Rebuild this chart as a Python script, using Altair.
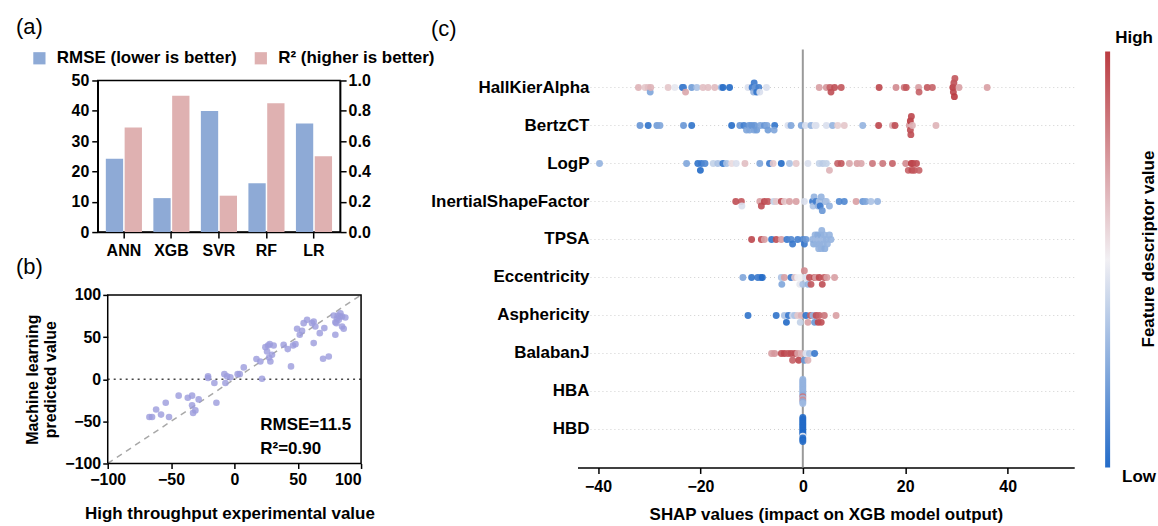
import altair as alt
import numpy as np
import pandas as pd

FONT = "Liberation Sans"

# ---------------- (a) model comparison ----------------
models = ["ANN", "XGB", "SVR", "RF", "LR"]
rmse_vals = [24.2, 11.2, 39.9, 16.1, 35.8]
r2_vals = [0.69, 0.90, 0.24, 0.85, 0.50]
metric_names = ["RMSE (lower is better)", "R²  (higher is better)"]
bar_colors = ["#8EAAD6", "#DFB1B1"]
rmse_ticks = [0, 10, 20, 30, 40, 50]
r2_ticks = [0.0, 0.2, 0.4, 0.6, 0.8, 1.0]

# ---------------- (b) predicted vs experimental ----------------
exp_vals = [-67.1, -65.0, -61.8, -57.9, -54.2, -51.6, -44.0, -36.8, -33.4, -33.4,
            -32.6, -30.8, -28.2, -20.8, -20.8, -15.8, -14.2, -7.9, -5.8, -7.1,
            -3.2, 2.6, 4.2, 7.4, 17.4, 20.5, 21.8, 24.5, 25.8, 26.6,
            27.9, 27.4, 28.4, 29.7, 31.0, 38.9, 42.1, 44.7, 46.3, 48.2,
            49.5, 51.6, 53.4, 54.7, 57.4, 61.3, 62.6, 62.6, 63.9, 67.4,
            70.0, 74.5, 71.0, 78.4, 79.7, 79.7, 81.0, 81.6, 83.2, 83.7,
            85.0, 85.0, 86.3, 87.6, 80.5, 82.4]
pred_vals = [-44.8, -44.8, -36.0, -42.0, -28.0, -44.8, -19.5, -22.0, -19.5, -31.0,
             -40.0, -37.0, -24.0, 3.4, 1.4, -4.5, -28.0, 6.0, 3.4, -4.5,
             2.2, 6.0, 6.0, 14.0, 23.9, 21.0, 0.6, 38.0, 32.9, 40.0,
             41.6, 25.8, 21.0, 29.0, 40.0, 40.8, 35.7, 15.2, 40.0, 41.6,
             59.8, 52.7, 57.4, 66.5, 70.4, 66.5, 68.5, 42.8, 62.5, 54.6,
             24.3, 27.0, 60.6, 75.5, 67.6, 52.7, 71.6, 75.5, 74.4, 78.3,
             62.5, 74.4, 59.8, 73.2, 66.5, 70.4]
diag_vals = [-100, 100]
zero_line_x = [-100, 100]
zero_line_y = [0, 0]
box_x = [-100, 100, 100, -100, -100]
box_y = [-100, -100, 100, 100, -100]
b_ticks = [-100, -50, 0, 50, 100]

# ---------------- (c) SHAP beeswarm ----------------
features = ["HallKierAlpha", "BertzCT", "LogP", "InertialShapeFactor", "TPSA",
            "Eccentricity", "Asphericity", "BalabanJ", "HBA", "HBD"]

shap_hall = [-32.1, -30.8, -30.2, -29.8, -29.7, -26.3, -25.0, -23.5, -23.3, -22.9,
             -21.7, -20.7, -19.5, -18.5, -17.2, -15.9, -15.6, -14.3, -10.7, -9.9,
             -9.6, -9.5, -9.3, -9.0, -8.6, -8.4, -7.1, 3.2, 4.6, 5.3,
             5.5, 6.2, 7.5, 14.9, 18.2, 19.8, 20.2, 22.6, 22.7, 24.3,
             25.3, 29.3, 29.4, 29.5, 29.6, 29.7, 30.5, 36.0]
fval_hall = [0.65, 0.6, 0.62, 0.25, 0.65, 0.6, 0.48, 0.08, 0.12, 0.68,
             0.22, 0.35, 0.62, 0.62, 0.63, 0.3, 0.05, 0.05, 0.45, 0.1,
             0.3, 0.1, 0.2, 0.08, 0.12, 0.45, 0.45, 0.7, 0.72, 0.85,
             0.9, 0.9, 0.88, 0.92, 0.75, 0.8, 0.88, 0.7, 0.85, 0.88,
             0.85, 0.95, 0.92, 0.9, 0.95, 0.88, 0.7, 0.7]
shap_bertz = [-31.8, -30.2, -28.5, -27.9, -23.3, -21.7, -13.9, -12.3, -11.5, -11.0,
              -10.5, -10.4, -10.0, -9.5, -9.4, -9.0, -8.3, -7.5, -7.0, -6.8,
              -5.5, -5.6, -2.9, -2.3, -0.3, 0.5, 1.6, 2.4, 2.6, 4.6,
              5.8, 6.8, 8.1, 11.7, 14.8, 17.5, 18.0, 20.8, 21.0, 21.0,
              21.1, 21.2, 21.4, 26.0]
fval_bertz = [0.2, 0.08, 0.22, 0.25, 0.2, 0.08, 0.06, 0.2, 0.12, 0.25,
              0.2, 0.25, 0.2, 0.25, 0.2, 0.22, 0.25, 0.2, 0.25, 0.22,
              0.08, 0.25, 0.45, 0.25, 0.25, 0.45, 0.3, 0.48, 0.45, 0.45,
              0.3, 0.58, 0.6, 0.3, 0.92, 0.65, 0.9, 0.7, 0.9, 0.95,
              0.9, 0.92, 0.65, 0.65]
shap_logp = [-39.7, -22.7, -20.5, -20.0, -19.8, -19.1, -17.5, -16.6, -15.6, -14.9,
             -13.9, -13.0, -11.3, -8.4, -6.5, -5.8, -4.2, -2.6, -1.3, 1.0,
             3.2, 3.9, 4.6, 5.2, 6.8, 7.5, 9.1, 10.6, 11.4, 13.6,
             15.6, 17.5, 20.1, 20.6, 21.2, 21.3, 21.5, 21.8, 22.2, 22.7]
fval_logp = [0.3, 0.25, 0.08, 0.05, 0.1, 0.15, 0.4, 0.35, 0.08, 0.35,
             0.55, 0.45, 0.62, 0.25, 0.1, 0.6, 0.05, 0.35, 0.6, 0.45,
             0.4, 0.38, 0.4, 0.65, 0.85, 0.88, 0.68, 0.7, 0.68, 0.8,
             0.8, 0.85, 0.75, 0.85, 0.95, 0.9, 0.92, 0.88, 0.9, 0.85]
shap_isf = [-13.1, -12.0, -11.9, -8.4, -8.1, -7.5, -6.8, -5.7, -5.2, -4.2,
            -3.6, -2.6, -1.3, 0.3, 1.9, 2.0, 2.2, 2.6, 3.0, 3.2,
            3.4, 3.6, 3.8, 4.4, 4.6, 5.2, 7.1, 8.1, 10.4, 11.7,
            12.3, 13.3, 14.6]
fval_isf = [0.9, 0.88, 0.45, 0.7, 0.9, 0.92, 0.88, 0.4, 0.6, 0.9,
            0.6, 0.7, 0.7, 0.45, 0.1, 0.35, 0.3, 0.12, 0.3, 0.35,
            0.1, 0.3, 0.2, 0.3, 0.35, 0.3, 0.15, 0.15, 0.7, 0.2,
            0.25, 0.35, 0.3]
shap_tpsa = [-10.0, -8.1, -7.5, -6.1, -5.2, -4.2, -3.1, -2.3, -2.0, -1.0,
             0.0, 0.3, 0.6, 1.9, 2.1, 2.4, 2.6, 2.7, 2.9, 3.1,
             3.2, 3.3, 3.5, 3.6, 3.7, 3.9, 4.0, 4.2, 4.3, 4.6,
             4.8, 5.2, 5.5]
fval_tpsa = [0.92, 0.9, 0.7, 0.08, 0.9, 0.7, 0.1, 0.15, 0.1, 0.12,
             0.15, 0.1, 0.2, 0.3, 0.28, 0.3, 0.32, 0.3, 0.28, 0.3,
             0.32, 0.3, 0.28, 0.3, 0.3, 0.32, 0.3, 0.3, 0.28, 0.3,
             0.3, 0.3, 0.3]
shap_ecc = [-11.7, -10.0, -8.8, -8.2, -7.9, -4.2, -4.1, -3.6, -2.3, -1.6,
            -1.0, -0.6, -0.3, 0.0, 0.3, 0.6, 1.0, 1.3, 1.6, 2.3,
            2.5, 3.2, 3.8, 4.2, 4.7, 6.2]
fval_ecc = [0.25, 0.08, 0.1, 0.12, 0.05, 0.35, 0.25, 0.7, 0.1, 0.6,
            0.5, 0.48, 0.5, 0.35, 0.75, 0.45, 0.3, 0.9, 0.88, 0.9,
            0.7, 0.92, 0.9, 0.88, 0.7, 0.7]
shap_asp = [-10.7, -5.2, -3.6, -3.2, -2.8, -2.0, -1.6, -1.0, -0.5, -0.3,
            0.6, 1.0, 1.5, 2.0, 2.3, 2.6, 3.0, 3.2, 3.6, 4.2, 6.5]
fval_asp = [0.08, 0.08, 0.35, 0.05, 0.1, 0.45, 0.35, 0.6, 0.4, 0.65,
            0.08, 0.7, 0.85, 0.3, 0.2, 0.9, 0.92, 0.85, 0.9, 0.8, 0.7]
shap_bal = [-6.1, -5.5, -4.2, -3.6, -2.9, -2.3, -2.0, -1.6, -1.0, -0.8,
            -0.3, 0.3, 0.6, 1.0, 1.3, 2.3]
fval_bal = [0.7, 0.72, 0.9, 0.92, 0.88, 0.9, 0.85, 0.9, 0.7, 0.92,
            0.65, 0.2, 0.45, 0.65, 0.35, 0.1]
shap_hba = [0.0, 0.0, 0.0, 0.0, 0.0, 0.0, 0.0, 0.0, 0.0, 0.0, 0.0, 0.0, 0.0, 0.0, 0.0]
fval_hba = [0.3, 0.32, 0.3, 0.28, 0.3, 0.8, 0.3, 0.32, 0.3, 0.75, 0.3, 0.28, 0.3, 0.32, 0.3]
shap_hbd = [0.0, 0.0, 0.0, 0.0, 0.0, 0.0, 0.0, 0.0, 0.0, 0.0, 0.0, 0.0, 0.0, 0.0, 0.0]
fval_hbd = [0.05, 0.06, 0.05, 0.04, 0.05, 0.06, 0.05, 0.5, 0.05, 0.06, 0.05, 0.04, 0.05, 0.06, 0.05]

shap_lists = [shap_hall, shap_bertz, shap_logp, shap_isf, shap_tpsa,
              shap_ecc, shap_asp, shap_bal, shap_hba, shap_hbd]
fval_lists = [fval_hall, fval_bertz, fval_logp, fval_isf, fval_tpsa,
              fval_ecc, fval_asp, fval_bal, fval_hba, fval_hbd]
shap_ticks = [-40, -20, 0, 20, 40]
zero_rule_shap = [0, 0]
zero_rule_rows = [-1, 10]
cmap = ["#0B5BC2", "#F0EEF2", "#B3262C"]


def swarm_offsets(vals, bin_w=0.7, row_h=0.4):
    """shap-style beeswarm stacking of points that fall in the same bin."""
    vals = np.asarray(vals, dtype=float)
    q = np.round(vals / bin_w)
    order = np.argsort(q, kind="stable")
    ys = np.zeros(len(vals))
    layer, last = 0, None
    for i in order:
        if q[i] != last:
            layer = 0
        ys[i] = np.ceil(layer / 2) * ((layer % 2) * 2 - 1)
        layer += 1
        last = q[i]
    ys *= 0.9 * (row_h / np.max(ys + 1))
    return ys


rows = []
for r, (f, sv, fv) in enumerate(zip(features, shap_lists, fval_lists)):
    offs = swarm_offsets(sv)
    for s, v, o in zip(sv, fv, offs):
        rows.append({"feature": f, "shap": s, "fval": v, "ypos": r + o})
df_c = pd.DataFrame(rows)

one = alt.Data(values=[{}])

# ================= panel (a) =================
df_rmse = pd.DataFrame({"model": models, "metric": metric_names[0], "value": rmse_vals})
df_r2 = pd.DataFrame({"model": models, "metric": metric_names[1], "value": r2_vals})

x_a = alt.X("model:N", sort=models,
            scale=alt.Scale(paddingInner=0.24, paddingOuter=0.17),
            axis=alt.Axis(title=None, labelAngle=0, tickSize=6, labelPadding=4, labelFontSize=16))
xo_a = alt.XOffset("metric:N", scale=alt.Scale(domain=metric_names, paddingInner=0.08))
col_a = alt.Color("metric:N", scale=alt.Scale(domain=metric_names, range=bar_colors),
                  legend=alt.Legend(orient="none", legendX=-67, legendY=-31, direction="horizontal",
                                    title=None, symbolType="square", symbolSize=150,
                                    symbolStrokeWidth=0, labelFontSize=17, labelFontWeight="bold",
                                    labelOffset=9, columnPadding=15, labelLimit=400))

bars_rmse = alt.Chart(df_rmse).mark_bar().encode(
    x=x_a, xOffset=xo_a, color=col_a,
    y=alt.Y("value:Q", scale=alt.Scale(domain=[0, 50], nice=False),
            axis=alt.Axis(orient="left", values=rmse_ticks, title=None, tickSize=6,
                          labelPadding=3, format="d")))
bars_r2 = alt.Chart(df_r2).mark_bar().encode(
    x=x_a, xOffset=xo_a, color=col_a,
    y=alt.Y("value:Q", scale=alt.Scale(domain=[0, 1], nice=False),
            axis=alt.Axis(orient="right", values=r2_ticks, title=None, tickSize=6,
                          labelPadding=2, format=".1f")))
lab_a = alt.Chart(one).mark_text(text="(a)", fontSize=22, fontWeight="normal", align="left",
                                 baseline="top").encode(x=alt.value(-82), y=alt.value(-64))

panel_a = alt.layer(bars_rmse, bars_r2, lab_a).resolve_scale(y="independent").properties(
    width=243, height=152, view=alt.ViewBackground(stroke="black", strokeWidth=1.5))

# ================= panel (b) =================
# (b) shares its plot origin with (a); its x domain reaches 10 px further left
B_W, B_H, B_SHIFT = 264, 169, 10
b_left = -100 - B_SHIFT * 200 / (B_W - B_SHIFT)
df_b = pd.DataFrame({"exp": exp_vals, "pred": pred_vals})
xb = alt.X("exp:Q", scale=alt.Scale(domain=[b_left, 100], nice=False, zero=False),
           axis=alt.Axis(values=b_ticks, title="High throughput experimental value", domain=False,
                         tickSize=5, labelPadding=3, titlePadding=18, labelFontSize=16, titleFontSize=17))
yb = alt.Y("pred:Q", scale=alt.Scale(domain=[-100, 100], nice=False),
           axis=alt.Axis(values=b_ticks, title=["Machine learning", "predicted value"], domain=False,
                         offset=-B_SHIFT, tickSize=5, labelPadding=2, titlePadding=6,
                         labelFontSize=16, titleFontSize=16))

box_b = alt.Chart(pd.DataFrame({"exp": box_x, "pred": box_y, "k": list(range(len(box_x)))})).mark_line(
    color="black", strokeWidth=1.5).encode(x=xb, y=yb, order="k:Q")
diag = alt.Chart(pd.DataFrame({"exp": diag_vals, "pred": diag_vals})).mark_line(
    color="#A8A8A8", strokeDash=[6, 5], strokeWidth=1.5).encode(x=xb, y=yb)
zero_b = alt.Chart(pd.DataFrame({"exp": zero_line_x, "pred": zero_line_y})).mark_line(
    color="#444444", strokeDash=[2, 4], strokeWidth=1.5).encode(x=xb, y=yb)
pts_b = alt.Chart(df_b).mark_circle(size=44, color="#9B9BDC", opacity=0.8).encode(x=xb, y=yb)
txt_rmse = alt.Chart(one).mark_text(text="RMSE=11.5", align="left", baseline="middle",
                                    fontSize=17, fontWeight="bold").encode(
    x=alt.datum(20.5), y=alt.datum(-54))
txt_r2 = alt.Chart(one).mark_text(text="R²=0.90", align="left", baseline="middle",
                                  fontSize=17, fontWeight="bold").encode(
    x=alt.datum(20.5), y=alt.datum(-83))
lab_b = alt.Chart(one).mark_text(text="(b)", fontSize=22, fontWeight="normal", align="left",
                                 baseline="top").encode(x=alt.value(-82), y=alt.value(-38))

panel_b = alt.layer(diag, zero_b, pts_b, box_b, txt_rmse, txt_r2, lab_b).properties(
    width=B_W, height=B_H)

# ================= panel (c) =================
# (c) shares its plot origin with (a); its y domain reaches 31 px above it
C_W, C_H, C_UP = 498, 388, 31
row_px = (C_H + C_UP) / 11.0
c_top = -1 + C_UP / row_px
xc = alt.X("shap:Q", scale=alt.Scale(domain=[-44, 53], nice=False, zero=False),
           axis=alt.Axis(values=shap_ticks, title="SHAP values (impact on XGB model output)",
                         tickSize=6, labelPadding=5, titlePadding=12, labelFontSize=16,
                         titleFontSize=17))
yc = alt.Y("ypos:Q", scale=alt.Scale(domain=[c_top, 10], reverse=True, nice=False, zero=False),
           axis=None)

row_lines = alt.Chart(pd.DataFrame({"ypos": list(range(len(features)))})).mark_rule(
    color="#CFCFCF", strokeDash=[1, 3], strokeWidth=1).encode(y=yc)
zero_c = alt.Chart(pd.DataFrame({"shap": zero_rule_shap, "ypos": zero_rule_rows})).mark_line(
    color="#9A9A9A", strokeWidth=2).encode(x=xc, y=yc)
pts_c = alt.Chart(df_c).mark_circle(size=48, opacity=0.9).encode(
    x=xc, y=yc,
    color=alt.Color("fval:Q", scale=alt.Scale(domain=[0, 0.5, 1], range=cmap, interpolate="rgb"),
                    legend=alt.Legend(orient="none", legendX=529, legendY=-29, direction="vertical",
                                      gradientLength=417, gradientThickness=5,
                                      gradientStrokeWidth=0, title=None, labelExpr="''",
                                      labelFontSize=1)))
feat_labels = alt.Chart(pd.DataFrame({"feature": features, "ypos": list(range(len(features)))})).mark_text(
    align="right", baseline="middle", fontSize=17, fontWeight="bold").encode(
    text="feature:N", y=yc, x=alt.value(12))
txt_high = alt.Chart(one).mark_text(text="High", fontSize=17, fontWeight="bold", align="center",
                                    baseline="middle").encode(x=alt.value(558), y=alt.value(-43))
txt_low = alt.Chart(one).mark_text(text="Low", fontSize=17, fontWeight="bold", align="center",
                                   baseline="middle").encode(x=alt.value(563), y=alt.value(398))
txt_cbar = alt.Chart(one).mark_text(text="Feature descriptor value", fontSize=17, fontWeight="bold",
                                    align="center", baseline="middle", angle=270).encode(
    x=alt.value(573), y=alt.value(169))
lab_c = alt.Chart(one).mark_text(text="(c)", fontSize=22, fontWeight="normal", align="left",
                                 baseline="top").encode(x=alt.value(-147), y=alt.value(-62))

panel_c = alt.layer(row_lines, zero_c, pts_c, feat_labels, txt_high, txt_low, txt_cbar,
                    lab_c).properties(width=C_W, height=C_H)

left = alt.vconcat(panel_a, panel_b, spacing=-4)
chart = alt.hconcat(left, panel_c, spacing=-10).properties(
    padding={"left": 15, "top": 14, "right": 0, "bottom": 0})

chart = chart.configure(font=FONT).configure_view(stroke="transparent").configure_axis(
    grid=False, domainColor="black", domainWidth=1.5, tickColor="black", tickWidth=1.5,
    labelColor="black", titleColor="black", labelFont=FONT, titleFont=FONT,
    labelFontWeight="bold", titleFontWeight="bold", labelFontSize=16, titleFontSize=17
).configure_legend(labelFont=FONT, labelColor="black").configure_text(color="black")

chart.save("out.html", embed_options={"renderer": "svg", "actions": False})
